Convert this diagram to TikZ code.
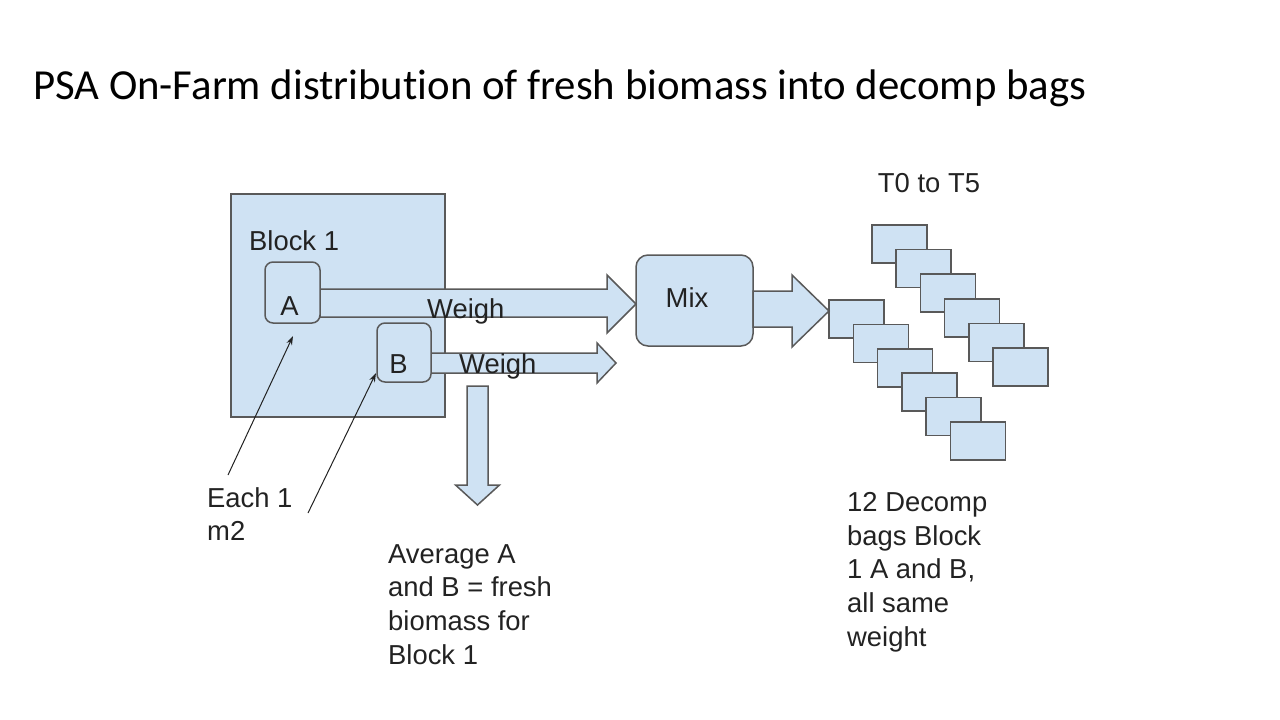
\documentclass[tikz,border=0pt]{standalone}
\usepackage{fontspec}
\setmainfont{Liberation Sans}
\newfontfamily\titlefont[Ligatures=NoCommon]{Carlito}
\usetikzlibrary{calc,arrows.meta}
\definecolor{boxfill}{HTML}{CFE2F3}
\definecolor{edgecol}{HTML}{595959}
\definecolor{txt}{HTML}{222222}
\begin{document}
\begin{tikzpicture}[x=1pt,y=-1pt,
  box/.style={draw=edgecol,fill=boxfill,line width=1.5pt,inner sep=0pt,outer sep=0pt},
  rbox/.style={box,rounded corners=8pt},
  fat/.style={draw=edgecol,fill=boxfill,line width=1.5pt,line join=miter},
  lbl/.style={font=\fontsize{27.4}{33.7}\selectfont,text=txt,inner sep=0pt,align=left},
  pointer/.style={draw=txt,line width=1pt,-{Stealth[length=9pt,width=6pt]}}]
\useasboundingbox (0,0) rectangle (1280,720);
% title
\node[anchor=base west,font=\titlefont\fontsize{42.8}{48}\selectfont,inner sep=0pt] (title) at (33,99) {PSA On-Farm distribution of fresh biomass into decomp bags};
% block
\node[box,minimum width=214pt,minimum height=223pt] (block) at (338,305.5) {};
\node[lbl,anchor=base west] (blocklbl) at (249,250) {Block 1};
% mix
\node[rbox,rounded corners=12pt,minimum width=117pt,minimum height=91pt] (mix) at (694.5,300.5) {};
% A and B box centres
\path (292.5,292.5) coordinate (Ac) (404,352.5) coordinate (Bc);
% fat arrows
\draw[fat] ($(Ac)+(27.5,-3.5)$) -- (607,289) -- (607,275) -- (mix.west |- 0,304) -- (607,333) -- (607,317) -- ($(Ac)+(27.5,24.5)$) -- cycle;
\coordinate (btip) at (616,363);
\draw[fat] ($(Bc)+(27,0.5)$) -- (597,353) -- (597,343) -- (btip) -- (597,383) -- (597,373) -- ($(Bc)+(27,20.5)$) -- cycle;
\coordinate (dtip) at (477.5,505);
\draw[fat] (467,386) -- (467,485) -- (455.5,485) -- (dtip) -- (499.5,485) -- (488,485) -- (488,386) -- cycle;
% sample boxes
\node[rbox,minimum width=55pt,minimum height=61pt] (A) at (Ac) {};
\node[rbox,minimum width=54pt,minimum height=59pt] (B) at (Bc) {};
\node[lbl,anchor=base] (Albl) at (289.5,315) {A};
\node[lbl,anchor=base] (Blbl) at (398.5,373) {B};
\node[lbl,anchor=base west] (weighA) at (427,318) {Weigh};
\node[lbl,anchor=base west] (weighB) at (459,373) {Weigh};
\node[lbl,anchor=base] (mixlbl) at (687,307) {Mix};
% bags
\foreach \i in {0,...,5}{
  \node[box,minimum width=55pt,minimum height=38pt,anchor=north west] (up\i) at ({872+24.2*\i},{225+24.6*\i}) {};
}
\foreach \i in {0,...,5}{
  \node[box,minimum width=55pt,minimum height=38pt,anchor=north west] (lo\i) at ({829+24.3*\i},{300+24.4*\i}) {};
}
\draw[fat] (mix.east |- 0,291) -- (792,291) -- (792,275) -- (lo0.west |- 0,311) -- (792,347) -- (792,327) -- (mix.east |- 0,327) -- cycle;
\node[lbl,anchor=base] (tlbl) at (929,192) {T0 to T5};
% pointers
\coordinate (p1s) at (228,475);
\coordinate (p1t) at (293,336);
\coordinate (p2s) at (308,513);
\coordinate (p2t) at (376,373);
\draw[pointer] (p1s) -- (p1t);
\draw[pointer] (p2s) -- (p2t);
% texts
\node[lbl,anchor=north west] (each) at (207,487) {Each 1\\m2};
\node[lbl,anchor=north west] (avg) at (388,544) {Average A\\and B = fresh\\biomass for\\Block 1};
\node[lbl,anchor=north west] (bags) at (847,492) {12 Decomp\\bags Block\\1 A and B,\\all same\\weight};
\end{tikzpicture}
\end{document}
